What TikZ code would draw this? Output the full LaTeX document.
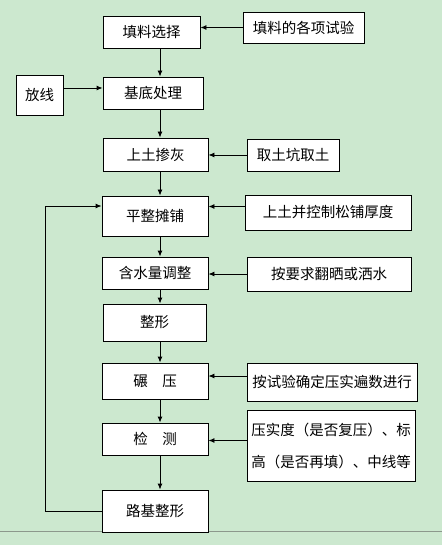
\documentclass[tikz,border=0pt]{standalone}
\usepackage{fontspec}
\newfontfamily\cjk{Noto Sans CJK SC}
\usetikzlibrary{arrows.meta}
\definecolor{bggreen}{RGB}{204,232,207}
\definecolor{rulegray}{RGB}{140,152,140}

\begin{document}
\begin{tikzpicture}[x=1pt,y=-1pt,
  box/.style={draw,fill=white,line width=0.9pt,inner sep=0pt,
    font=\cjk\fontsize{14.5}{18}\selectfont},
  arr/.style={line width=0.9pt,-{Latex[length=6pt,width=5pt]}}]

\fill[bggreen] (0,0) rectangle (442,545);
\useasboundingbox (0,0) rectangle (442,545);
\draw[rulegray,line width=0.8pt] (0,531) -- (442,531);

% main column
\node[box,minimum width=97pt,minimum height=32pt] (tlxz) at (151.5,32) {填料选择};
\node[box,minimum width=100pt,minimum height=32pt] (jdcl) at (153,93) {基底处理};
\node[box,minimum width=105pt,minimum height=33pt] (stch) at (155.5,154.5) {上土掺灰};
\node[box,minimum width=106pt,minimum height=40pt] (pztp) at (155,216) {平整摊铺};
\node[box,minimum width=106pt,minimum height=32pt] (hslz) at (155,273) {含水量调整};
\node[box,minimum width=103pt,minimum height=37pt] (zx) at (154.5,322.5) {整形};
\node[box,minimum width=106pt,minimum height=36pt] (ny) at (155,381) {碾\hspace{1em}压};
\node[box,minimum width=106pt,minimum height=32pt] (jc) at (155,439) {检\hspace{1em}测};
\node[box,minimum width=106pt,minimum height=42pt] (ljzx) at (155,511) {路基整形};

% side boxes
\node[box,minimum width=121pt,minimum height=31pt] (tlsy) at (303.5,27.5) {填料的各项试验};
\node[box,minimum width=47pt,minimum height=40pt] (fx) at (39.5,95) {放线};
\node[box,minimum width=92pt,minimum height=32pt] (qtk) at (293,155) {取土坑取土};
\node[box,minimum width=166pt,minimum height=35pt] (stkz) at (328,212.5) {上土并控制松铺厚度};
\node[box,minimum width=164pt,minimum height=34pt] (fsss) at (329,274) {按要求翻晒或洒水};
\node[box,minimum width=170pt,minimum height=38pt] (sybs) at (332,382) {按试验确定压实遍数进行};
\node[box,minimum width=168pt,minimum height=71pt,align=left,
  font=\cjk\fontsize{14.5}{32}\selectfont] (ysd) at (331,445.5)
  {压实度（是否复压）、标\\高（是否再填）、中线等};

\coordinate (spine) at (160,0);
\coordinate (back) at (45,206);

\draw[arr] (tlxz.south -| spine) -- (jdcl.north -| spine);
\draw[arr] (jdcl.south -| spine) -- (stch.north -| spine);
\draw[arr] (stch.south -| spine) -- (pztp.north -| spine);
\draw[arr] (pztp.south -| spine) -- (hslz.north -| spine);
\draw[arr] (hslz.south -| spine) -- (zx.north -| spine);
\draw[arr] (zx.south -| spine) -- (ny.north -| spine);
\draw[arr] (ny.south -| spine) -- (jc.north -| spine);
\draw[arr] (jc.south -| spine) -- (ljzx.north -| spine);

\draw[arr] (tlsy.west) -- (tlsy.west -| tlxz.east);
\draw[arr] ([yshift=7pt]fx.east) -- ([yshift=7pt]fx.east -| jdcl.west);
\draw[arr] (qtk.west) -- (qtk.west -| stch.east);
\draw[arr] ([yshift=6pt]stkz.west) -- ([yshift=6pt]stkz.west -| pztp.east);
\draw[arr] (fsss.west) -- (fsss.west -| hslz.east);
\draw[arr] ([yshift=6pt]sybs.west) -- ([yshift=6pt]sybs.west -| ny.east);
\draw[arr] ([yshift=5pt]ysd.west) -- ([yshift=5pt]ysd.west -| jc.east);

% back to levelling
\draw[arr] (ljzx.west) -| (back) -- (back -| pztp.west);

\end{tikzpicture}
\end{document}
